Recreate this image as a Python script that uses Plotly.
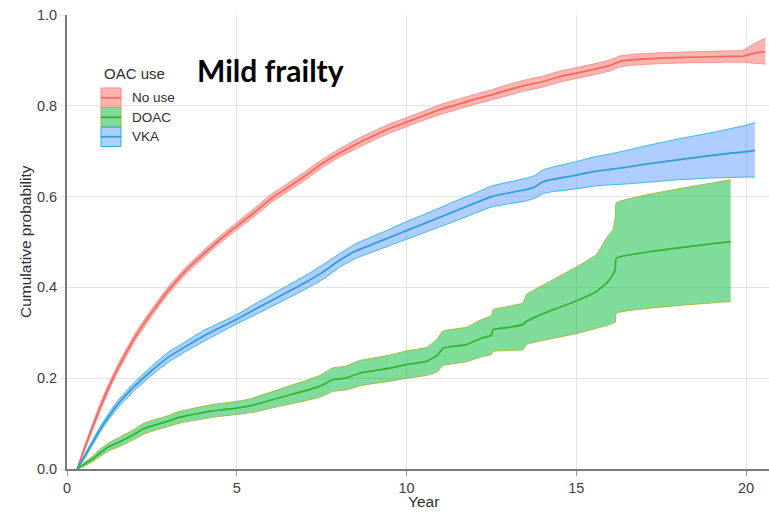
import plotly.graph_objects as go

# ---- cumulative incidence estimates with 95% bands, by OAC use ----
nouse_year = [0.3, 0.5, 0.75, 1.0, 1.25, 1.5, 2.0, 2.5, 3.0, 3.5, 4.0, 4.5, 5.0, 5.5, 6.0,
              6.5, 7.0, 7.5, 8.0, 8.5, 9.0, 9.5, 10.0, 10.5, 11.0, 11.5, 12.0, 12.5, 13.0,
              13.5, 14.0, 14.5, 15.0, 15.5, 16.0, 16.3, 16.6, 17.0, 17.5, 18.0, 18.5, 19.0,
              19.5, 19.9, 20.2, 20.57]
nouse_est = [0.0, 0.042, 0.092, 0.14, 0.183, 0.222, 0.29, 0.345, 0.395, 0.437, 0.472, 0.505,
             0.535, 0.564, 0.595, 0.62, 0.645, 0.672, 0.695, 0.715, 0.733, 0.75, 0.764,
             0.778, 0.792, 0.803, 0.814, 0.824, 0.835, 0.845, 0.853, 0.864, 0.872, 0.88,
             0.889, 0.898, 0.901, 0.903, 0.905, 0.906, 0.907, 0.908, 0.909, 0.909, 0.915,
             0.919]
nouse_lo = [0.0, 0.037, 0.085, 0.132, 0.175, 0.214, 0.282, 0.337, 0.387, 0.429, 0.464,
            0.497, 0.527, 0.555, 0.586, 0.611, 0.636, 0.663, 0.686, 0.705, 0.723, 0.74,
            0.754, 0.768, 0.781, 0.792, 0.803, 0.813, 0.823, 0.833, 0.841, 0.852, 0.86,
            0.868, 0.877, 0.886, 0.889, 0.891, 0.893, 0.894, 0.895, 0.895, 0.896, 0.896,
            0.894, 0.892]
nouse_hi = [0.0, 0.047, 0.099, 0.148, 0.191, 0.23, 0.298, 0.353, 0.403, 0.445, 0.48,
            0.513, 0.543, 0.573, 0.604, 0.629, 0.654, 0.681, 0.704, 0.725, 0.743, 0.76,
            0.774, 0.788, 0.803, 0.814, 0.825, 0.835, 0.847, 0.857, 0.865, 0.876, 0.884,
            0.892, 0.901, 0.91, 0.913, 0.915, 0.917, 0.918, 0.919, 0.92, 0.921, 0.922,
            0.935, 0.949]

doac_year = [0.3, 0.5, 0.75, 1.0, 1.26, 1.5, 2.0, 2.24, 2.5, 3.0, 3.22, 3.5, 4.0, 4.2, 4.5,
             5.0, 5.38, 5.5, 6.07, 6.5, 7.0, 7.44, 7.84, 8.2, 8.62, 9.0, 9.5, 10.0, 10.59,
             10.9, 11.08, 11.76, 12.2, 12.5, 12.55, 13.0, 13.43, 13.53, 14.32, 15.0, 15.59,
             15.9, 16.08, 16.15, 16.18, 19.55]
doac_est = [0.0, 0.01, 0.022, 0.037, 0.05, 0.058, 0.077, 0.088, 0.095, 0.106, 0.112, 0.117,
            0.124, 0.127, 0.13, 0.134, 0.139, 0.141, 0.153, 0.162, 0.172, 0.182, 0.197, 0.2,
            0.211, 0.216, 0.222, 0.23, 0.237, 0.25, 0.266, 0.274, 0.288, 0.295, 0.307, 0.312,
            0.318, 0.325, 0.351, 0.37, 0.391, 0.41, 0.428, 0.44, 0.464, 0.501]
doac_lo = [0.0, 0.006, 0.016, 0.029, 0.041, 0.048, 0.066, 0.076, 0.083, 0.094, 0.099, 0.104,
           0.11, 0.113, 0.116, 0.12, 0.124, 0.125, 0.135, 0.142, 0.15, 0.158, 0.171, 0.174,
           0.183, 0.188, 0.193, 0.2, 0.206, 0.214, 0.228, 0.236, 0.247, 0.252, 0.259, 0.261,
           0.263, 0.274, 0.288, 0.298, 0.31, 0.316, 0.321, 0.323, 0.343, 0.369]
doac_hi = [0.0, 0.014, 0.028, 0.045, 0.059, 0.068, 0.088, 0.1, 0.107, 0.118, 0.125, 0.13,
           0.138, 0.141, 0.144, 0.149, 0.154, 0.157, 0.171, 0.182, 0.194, 0.206, 0.223,
           0.226, 0.239, 0.244, 0.251, 0.26, 0.268, 0.286, 0.304, 0.312, 0.329, 0.338,
           0.351, 0.358, 0.366, 0.384, 0.417, 0.445, 0.472, 0.51, 0.527, 0.556, 0.586,
           0.637]

vka_year = [0.3, 0.5, 0.75, 1.0, 1.25, 1.5, 2.0, 2.5, 3.0, 3.5, 4.0, 4.5, 5.0, 5.5, 6.0,
            6.5, 7.0, 7.5, 8.0, 8.5, 9.0, 9.5, 10.0, 10.5, 11.0, 11.5, 12.0, 12.5, 13.0,
            13.5, 13.8, 14.0, 14.3, 15.0, 15.5, 16.0, 16.5, 17.0, 17.5, 18.0, 18.5, 19.0,
            19.5, 20.0, 20.26]
vka_est = [0.0, 0.025, 0.058, 0.09, 0.118, 0.143, 0.183, 0.217, 0.247, 0.27, 0.292, 0.311,
           0.33, 0.35, 0.37, 0.39, 0.41, 0.432, 0.458, 0.48, 0.495, 0.51, 0.525, 0.54, 0.555,
           0.57, 0.585, 0.6, 0.608, 0.615, 0.622, 0.632, 0.638, 0.647, 0.655, 0.66, 0.665,
           0.671, 0.676, 0.681, 0.686, 0.691, 0.695, 0.699, 0.702]
vka_lo = [0.0, 0.021, 0.053, 0.084, 0.111, 0.135, 0.174, 0.207, 0.236, 0.259, 0.28, 0.3,
          0.32, 0.338, 0.357, 0.376, 0.395, 0.416, 0.443, 0.464, 0.478, 0.492, 0.506, 0.52,
          0.534, 0.548, 0.563, 0.577, 0.584, 0.59, 0.597, 0.606, 0.611, 0.617, 0.623, 0.626,
          0.628, 0.631, 0.634, 0.637, 0.639, 0.641, 0.642, 0.643, 0.643]
vka_hi = [0.0, 0.029, 0.063, 0.096, 0.125, 0.151, 0.192, 0.227, 0.258, 0.281, 0.304, 0.322,
          0.34, 0.362, 0.383, 0.404, 0.425, 0.448, 0.473, 0.496, 0.512, 0.528, 0.545, 0.56,
          0.576, 0.592, 0.607, 0.623, 0.632, 0.64, 0.647, 0.658, 0.665, 0.677, 0.687, 0.694,
          0.702, 0.711, 0.719, 0.727, 0.734, 0.741, 0.749, 0.757, 0.763]

group_names = ["No use", "DOAC", "VKA"]
x_ticks = [0, 5, 10, 15, 20]
y_ticks = [0.0, 0.2, 0.4, 0.6, 0.8, 1.0]

# ---- styling ----
W, H = 769, 515
L, R, T, B = 67, 0, 15, 46
PW, PH = W - L - R, H - T - B

styles = {
    "No use": dict(fill="rgba(248,118,109,0.55)", edge="#F58C84", line="#F2675E"),
    "DOAC": dict(fill="rgba(0,186,56,0.5)", edge="#A6B237", line="#36B132"),
    "VKA": dict(fill="rgba(97,156,255,0.5)", edge="#22B5DA", line="#2A9ED6"),
}
series = {
    "No use": (nouse_year, nouse_est, nouse_lo, nouse_hi),
    "DOAC": (doac_year, doac_est, doac_lo, doac_hi),
    "VKA": (vka_year, vka_est, vka_lo, vka_hi),
}


def pxx(x):
    return (x - L) / PW


def pxy(y):
    return (H - B - y) / PH


fig = go.Figure()

# ribbons first, then estimate lines on top
for name in group_names:
    yr, est, lo, hi = series[name]
    st = styles[name]
    fig.add_trace(go.Scatter(x=yr, y=lo, mode="lines",
                             line=dict(color=st["edge"], width=0.9, shape="spline",
                                       smoothing=0.4),
                             showlegend=False, hoverinfo="skip"))
    fig.add_trace(go.Scatter(x=yr, y=hi, mode="lines",
                             line=dict(color=st["edge"], width=0.9, shape="spline",
                                       smoothing=0.4),
                             fill="tonexty", fillcolor=st["fill"], showlegend=False,
                             hoverinfo="skip"))
for name in group_names:
    yr, est, lo, hi = series[name]
    st = styles[name]
    fig.add_trace(go.Scatter(x=yr, y=est, mode="lines", name=name,
                             line=dict(color=st["line"], width=1.7, shape="spline",
                                       smoothing=0.4),
                             showlegend=False))

axis_font = dict(family="Liberation Sans, Arial, sans-serif", size=14.5, color="#3d3d3d")

fig.update_xaxes(range=[0, PW / 33.95], tickvals=x_ticks, ticktext=[str(v) for v in x_ticks],
                 showgrid=True, gridcolor="#e3e3e3", gridwidth=1, zeroline=False,
                 showline=True, linecolor="#7a7a7a", linewidth=2,
                 ticks="outside", ticklen=5, tickcolor="#9a9a9a", tickwidth=1,
                 tickfont=axis_font)
fig.update_yaxes(range=[0, 1], tickvals=y_ticks, ticktext=[f"{v:.1f}" for v in y_ticks],
                 showgrid=True, gridcolor="#e3e3e3", gridwidth=1, zeroline=False,
                 showline=True, linecolor="#7a7a7a", linewidth=2,
                 ticks="outside", ticklen=5, tickcolor="#e3e3e3", tickwidth=1,
                 tickfont=axis_font)

annotations = [
    dict(text="Year", x=pxx(423), y=pxy(501), xref="paper", yref="paper",
         showarrow=False, font=dict(family="Liberation Sans, Arial, sans-serif", size=15.5,
                                    color="#2e2e2e"), xanchor="center", yanchor="middle"),
    dict(text="Cumulative probability", x=pxx(25), y=pxy(242), xref="paper", yref="paper",
         showarrow=False, textangle=-90,
         font=dict(family="Liberation Sans, Arial, sans-serif", size=15.5, color="#2e2e2e"),
         xanchor="center", yanchor="middle"),
    dict(text="<b>Mild frailty</b>", x=pxx(195), y=pxy(70), xref="paper", yref="paper",
         showarrow=False, font=dict(family="Lato, sans-serif", size=30, color="#000000"),
         xanchor="left", yanchor="middle"),
    dict(text="OAC use", x=pxx(102), y=pxy(73), xref="paper", yref="paper",
         showarrow=False, font=dict(family="Liberation Sans, Arial, sans-serif", size=15,
                                    color="#2e2e2e"), xanchor="left", yanchor="middle"),
]

shapes = []
key_x0, key_x1 = 101, 121
key_tops = [88, 107.5, 127]
key_h = 19.5
for name, top in zip(group_names, key_tops):
    st = styles[name]
    shapes.append(dict(type="rect", xref="paper", yref="paper",
                       x0=pxx(key_x0), x1=pxx(key_x1), y0=pxy(top + key_h), y1=pxy(top),
                       fillcolor=st["fill"], line=dict(color=st["edge"], width=1)))
    mid = top + key_h / 2
    shapes.append(dict(type="line", xref="paper", yref="paper",
                       x0=pxx(key_x0), x1=pxx(key_x1), y0=pxy(mid), y1=pxy(mid),
                       line=dict(color=st["line"], width=1.7)))
    annotations.append(dict(text=name, x=pxx(130), y=pxy(mid), xref="paper", yref="paper",
                            showarrow=False, xanchor="left", yanchor="middle",
                            font=dict(family="Liberation Sans, Arial, sans-serif", size=13.5,
                                      color="#2e2e2e")))

fig.update_layout(width=W, height=H, margin=dict(l=L, r=R, t=T, b=B),
                  plot_bgcolor="white", paper_bgcolor="white",
                  annotations=annotations, shapes=shapes, showlegend=False)

fig.write_html("out.html")
